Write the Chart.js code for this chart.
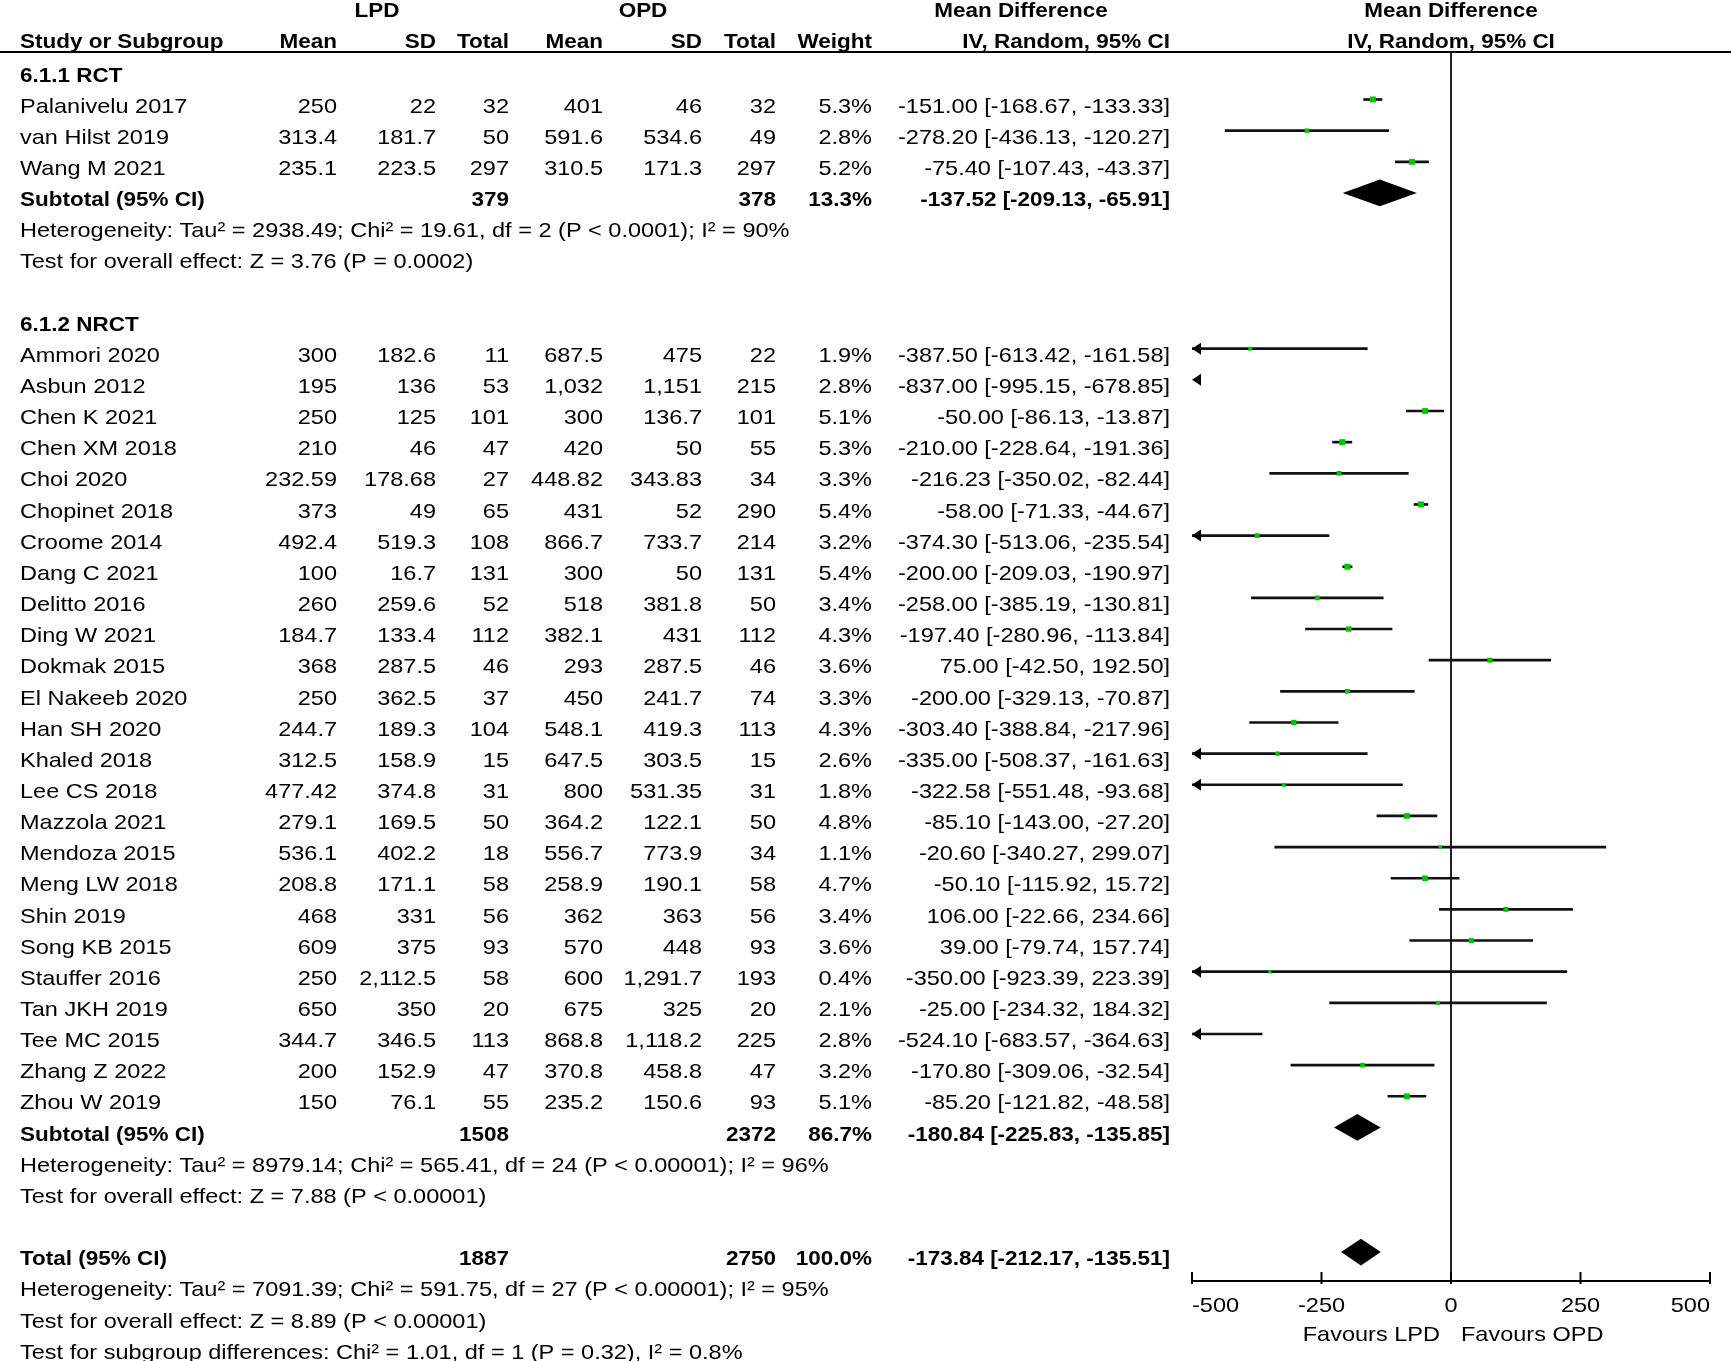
<!DOCTYPE html>
<html>
<head>
<meta charset="utf-8">
<script src="https://cdn.jsdelivr.net/npm/chart.js@4.4.1/dist/chart.umd.min.js"></script>
<style>
  html, body { margin: 0; padding: 0; background: #fff; }
  #wrap { width: 1731px; height: 1361px; position: relative; }
</style>
</head>
<body>
<div id="wrap"><canvas id="forest"></canvas></div>
<script>
// Forest plot: LPD vs OPD, mean difference (IV, random, 95% CI)

const groupNames = ['6.1.1 RCT', '6.1.2 NRCT'];
const groupSizes = [3, 25];

const studies = [
  'Palanivelu 2017', 'van Hilst 2019', 'Wang M 2021',
  'Ammori 2020', 'Asbun 2012', 'Chen K 2021', 'Chen XM 2018', 'Choi 2020',
  'Chopinet 2018', 'Croome 2014', 'Dang C 2021', 'Delitto 2016', 'Ding W 2021',
  'Dokmak 2015', 'El Nakeeb 2020', 'Han SH 2020', 'Khaled 2018', 'Lee CS 2018',
  'Mazzola 2021', 'Mendoza 2015', 'Meng LW 2018', 'Shin 2019', 'Song KB 2015',
  'Stauffer 2016', 'Tan JKH 2019', 'Tee MC 2015', 'Zhang Z 2022', 'Zhou W 2019'
];
const lpdMean = ['250', '313.4', '235.1', '300', '195', '250', '210', '232.59', '373', '492.4', '100', '260', '184.7',
  '368', '250', '244.7', '312.5', '477.42', '279.1', '536.1', '208.8', '468', '609', '250', '650', '344.7', '200', '150'];
const lpdSD = ['22', '181.7', '223.5', '182.6', '136', '125', '46', '178.68', '49', '519.3', '16.7', '259.6', '133.4',
  '287.5', '362.5', '189.3', '158.9', '374.8', '169.5', '402.2', '171.1', '331', '375', '2,112.5', '350', '346.5', '152.9', '76.1'];
const lpdTotal = [32, 50, 297, 11, 53, 101, 47, 27, 65, 108, 131, 52, 112,
  46, 37, 104, 15, 31, 50, 18, 58, 56, 93, 58, 20, 113, 47, 55];
const opdMean = ['401', '591.6', '310.5', '687.5', '1,032', '300', '420', '448.82', '431', '866.7', '300', '518', '382.1',
  '293', '450', '548.1', '647.5', '800', '364.2', '556.7', '258.9', '362', '570', '600', '675', '868.8', '370.8', '235.2'];
const opdSD = ['46', '534.6', '171.3', '475', '1,151', '136.7', '50', '343.83', '52', '733.7', '50', '381.8', '431',
  '287.5', '241.7', '419.3', '303.5', '531.35', '122.1', '773.9', '190.1', '363', '448', '1,291.7', '325', '1,118.2', '458.8', '150.6'];
const opdTotal = [32, 49, 297, 22, 215, 101, 55, 34, 290, 214, 131, 50, 112,
  46, 74, 113, 15, 31, 50, 34, 58, 56, 93, 193, 20, 225, 47, 93];
const weights = [5.3, 2.8, 5.2, 1.9, 2.8, 5.1, 5.3, 3.3, 5.4, 3.2, 5.4, 3.4, 4.3,
  3.6, 3.3, 4.3, 2.6, 1.8, 4.8, 1.1, 4.7, 3.4, 3.6, 0.4, 2.1, 2.8, 3.2, 5.1];
const md = [-151.00, -278.20, -75.40, -387.50, -837.00, -50.00, -210.00, -216.23, -58.00, -374.30, -200.00, -258.00, -197.40,
  75.00, -200.00, -303.40, -335.00, -322.58, -85.10, -20.60, -50.10, 106.00, 39.00, -350.00, -25.00, -524.10, -170.80, -85.20];
const ciLow = [-168.67, -436.13, -107.43, -613.42, -995.15, -86.13, -228.64, -350.02, -71.33, -513.06, -209.03, -385.19, -280.96,
  -42.50, -329.13, -388.84, -508.37, -551.48, -143.00, -340.27, -115.92, -22.66, -79.74, -923.39, -234.32, -683.57, -309.06, -121.82];
const ciHigh = [-133.33, -120.27, -43.37, -161.58, -678.85, -13.87, -191.36, -82.44, -44.67, -235.54, -190.97, -130.81, -113.84,
  192.50, -70.87, -217.96, -161.63, -93.68, -27.20, 299.07, 15.72, 234.66, 157.74, 223.39, 184.32, -364.63, -32.54, -48.58];

const subLpdTotal = [379, 1508];
const subOpdTotal = [378, 2372];
const subWeight = ['13.3%', '86.7%'];
const subMd = [-137.52, -180.84];
const subLow = [-209.13, -225.83];
const subHigh = [-65.91, -135.85];
const subHet = [
  'Heterogeneity: Tau² = 2938.49; Chi² = 19.61, df = 2 (P < 0.0001); I² = 90%',
  'Heterogeneity: Tau² = 8979.14; Chi² = 565.41, df = 24 (P < 0.00001); I² = 96%'
];
const subTest = [
  'Test for overall effect: Z = 3.76 (P = 0.0002)',
  'Test for overall effect: Z = 7.88 (P < 0.00001)'
];

const totalLpd = 1887;
const totalOpd = 2750;
const totalWeight = '100.0%';
const totalMd = -173.84;
const totalLow = -212.17;
const totalHigh = -135.51;
const totalNotes = [
  'Heterogeneity: Tau² = 7091.39; Chi² = 591.75, df = 27 (P < 0.00001); I² = 95%',
  'Test for overall effect: Z = 8.89 (P < 0.00001)',
  'Test for subgroup differences: Chi² = 1.01, df = 1 (P = 0.32), I² = 0.8%'
];

const xTicks = [-500, -250, 0, 250, 500];
const xMin = -500, xMax = 500;

// ---- row layout (one row index per text line) ----
const studyRow = [];
const groupRow = [], subRow = [];
let r = -1;
groupSizes.forEach(n => {
  groupRow.push(r);
  for (let j = 0; j < n; j++) studyRow.push(r + 1 + j);
  subRow.push(r + n + 1);
  r += n + 5;
});
const totalRow = r;

function ciText(m, lo, hi) {
  return m.toFixed(2) + ' [' + lo.toFixed(2) + ', ' + hi.toFixed(2) + ']';
}

// Column right edges / anchors
const COL = { name: 20, lMean: 337, lSD: 436, lTot: 509, oMean: 603, oSD: 702, oTot: 776, w: 872, ci: 1170 };
const TEXT_DY = 7.4;   // text sits a little below the marks in RevMan plots
const HEAD_DY = 5.4;

function txt(ctx, s, x, y, align, bold) {
  ctx.save();
  ctx.font = (bold ? 'bold ' : '') + '21px "Liberation Sans", Arial, sans-serif';
  ctx.fillStyle = '#000';
  ctx.textAlign = align;
  ctx.textBaseline = 'middle';
  ctx.translate(x, y);
  ctx.scale(bold ? 1.07 : 1.12, 1);
  ctx.fillText(s, 0, 0);
  ctx.restore();
}

const forestPlugin = {
  id: 'forest',
  beforeDatasetsDraw(chart) {
    const { ctx, chartArea, scales: { x } } = chart;
    ctx.save();
    // header rule
    ctx.strokeStyle = '#000';
    ctx.lineWidth = 2;
    ctx.beginPath();
    ctx.moveTo(0, chartArea.top);
    ctx.lineTo(chart.width, chartArea.top);
    ctx.stroke();
    // line of no effect
    ctx.strokeStyle = '#222';
    ctx.beginPath();
    ctx.moveTo(x.getPixelForValue(0), chartArea.top);
    ctx.lineTo(x.getPixelForValue(0), chartArea.bottom);
    ctx.stroke();
    ctx.restore();
  },
  afterDatasetsDraw(chart) {
    const { ctx, chartArea, scales: { x, y } } = chart;
    ctx.save();
    // arrows for intervals running past the axis
    ctx.fillStyle = '#000';
    studies.forEach((s, i) => {
      const py = y.getPixelForValue(studyRow[i]);
      if (ciLow[i] < xMin) {
        const px = x.getPixelForValue(xMin);
        ctx.beginPath();
        ctx.moveTo(px, py);
        ctx.lineTo(px + 9, py - 6);
        ctx.lineTo(px + 9, py + 6);
        ctx.closePath();
        ctx.fill();
      }
      if (ciHigh[i] > xMax) {
        const px = x.getPixelForValue(xMax);
        ctx.beginPath();
        ctx.moveTo(px, py);
        ctx.lineTo(px - 9, py - 6);
        ctx.lineTo(px - 9, py + 6);
        ctx.closePath();
        ctx.fill();
      }
    });
    // diamonds
    const diamonds = subMd.map((m, g) => [m, subLow[g], subHigh[g], subRow[g]]);
    diamonds.push([totalMd, totalLow, totalHigh, totalRow]);
    diamonds.forEach(([m, lo, hi, row]) => {
      const pc = y.getPixelForValue(row);
      const h = Math.abs(y.getPixelForValue(row + 0.43) - pc);
      ctx.beginPath();
      ctx.moveTo(x.getPixelForValue(lo), pc);
      ctx.lineTo(x.getPixelForValue(m), pc - h);
      ctx.lineTo(x.getPixelForValue(hi), pc);
      ctx.lineTo(x.getPixelForValue(m), pc + h);
      ctx.closePath();
      ctx.fill();
    });
    // x axis
    const ay = chartArea.bottom;
    ctx.strokeStyle = '#000';
    ctx.lineWidth = 2;
    ctx.beginPath();
    ctx.moveTo(x.getPixelForValue(xMin), ay);
    ctx.lineTo(x.getPixelForValue(xMax), ay);
    xTicks.forEach(t => {
      const px = x.getPixelForValue(t);
      ctx.moveTo(px, ay - 9);
      ctx.lineTo(px, ay + 3);
    });
    ctx.stroke();
    ctx.restore();
    xTicks.forEach((t, i) => {
      const px = x.getPixelForValue(t);
      const align = i === 0 ? 'left' : (i === xTicks.length - 1 ? 'right' : 'center');
      txt(ctx, String(t), px, ay + 25, align, false);
    });
    const zx = x.getPixelForValue(0);
    txt(ctx, 'Favours LPD', zx - 11, ay + 54, 'right', false);
    txt(ctx, 'Favours OPD', zx + 10, ay + 54, 'left', false);
  },
  afterDraw(chart) {
    const { ctx, scales: { y } } = chart;
    const Y = row => y.getPixelForValue(row) + TEXT_DY;
    const H = row => y.getPixelForValue(row) + HEAD_DY;
    const right = (chart.chartArea.left + chart.chartArea.right) / 2;

    // column headers
    txt(ctx, 'LPD', 377, H(-3), 'center', true);
    txt(ctx, 'OPD', 643, H(-3), 'center', true);
    txt(ctx, 'Mean Difference', 1021, H(-3), 'center', true);
    txt(ctx, 'Mean Difference', right, H(-3), 'center', true);
    const hy = H(-2);
    txt(ctx, 'Study or Subgroup', COL.name, hy, 'left', true);
    txt(ctx, 'Mean', COL.lMean, hy, 'right', true);
    txt(ctx, 'SD', COL.lSD, hy, 'right', true);
    txt(ctx, 'Total', COL.lTot, hy, 'right', true);
    txt(ctx, 'Mean', COL.oMean, hy, 'right', true);
    txt(ctx, 'SD', COL.oSD, hy, 'right', true);
    txt(ctx, 'Total', COL.oTot, hy, 'right', true);
    txt(ctx, 'Weight', COL.w, hy, 'right', true);
    txt(ctx, 'IV, Random, 95% CI', COL.ci, hy, 'right', true);
    txt(ctx, 'IV, Random, 95% CI', right, hy, 'center', true);

    // study rows
    studies.forEach((s, i) => {
      const py = Y(studyRow[i]);
      txt(ctx, s, COL.name, py, 'left', false);
      txt(ctx, lpdMean[i], COL.lMean, py, 'right', false);
      txt(ctx, lpdSD[i], COL.lSD, py, 'right', false);
      txt(ctx, String(lpdTotal[i]), COL.lTot, py, 'right', false);
      txt(ctx, opdMean[i], COL.oMean, py, 'right', false);
      txt(ctx, opdSD[i], COL.oSD, py, 'right', false);
      txt(ctx, String(opdTotal[i]), COL.oTot, py, 'right', false);
      txt(ctx, weights[i].toFixed(1) + '%', COL.w, py, 'right', false);
      txt(ctx, ciText(md[i], ciLow[i], ciHigh[i]), COL.ci, py, 'right', false);
    });

    // subgroup headers, subtotals and notes
    groupNames.forEach((g, j) => {
      txt(ctx, g, COL.name, Y(groupRow[j]), 'left', true);
      const py = Y(subRow[j]);
      txt(ctx, 'Subtotal (95% CI)', COL.name, py, 'left', true);
      txt(ctx, String(subLpdTotal[j]), COL.lTot, py, 'right', true);
      txt(ctx, String(subOpdTotal[j]), COL.oTot, py, 'right', true);
      txt(ctx, subWeight[j], COL.w, py, 'right', true);
      txt(ctx, ciText(subMd[j], subLow[j], subHigh[j]), COL.ci, py, 'right', true);
      txt(ctx, subHet[j], COL.name, Y(subRow[j] + 1), 'left', false);
      txt(ctx, subTest[j], COL.name, Y(subRow[j] + 2), 'left', false);
    });

    // overall total
    const ty = Y(totalRow);
    txt(ctx, 'Total (95% CI)', COL.name, ty, 'left', true);
    txt(ctx, String(totalLpd), COL.lTot, ty, 'right', true);
    txt(ctx, String(totalOpd), COL.oTot, ty, 'right', true);
    txt(ctx, totalWeight, COL.w, ty, 'right', true);
    txt(ctx, ciText(totalMd, totalLow, totalHigh), COL.ci, ty, 'right', true);
    totalNotes.forEach((n, j) => txt(ctx, n, COL.name, Y(totalRow + 1 + j), 'left', false));
  }
};

// y value range chosen so row 0 marks sit at ~99.5px and rows are 31.15px apart
const rowTop = -1.525, rowBottom = 37.93;

new Chart(document.getElementById('forest'), {
  type: 'bar',
  data: {
    datasets: [
      {
        type: 'scatter',
        label: 'Mean difference',
        data: studies.map((s, i) => ({ x: md[i], y: studyRow[i] })),
        pointStyle: 'rect',
        pointRadius: weights.map(w => (2.8 + 0.6 * w) / Math.SQRT2),
        backgroundColor: '#00c800',
        borderWidth: 0,
        clip: 0,
        order: 0
      },
      {
        type: 'bar',
        label: '95% CI',
        data: studies.map((s, i) => ({ x: [ciLow[i], ciHigh[i]], y: studyRow[i] })),
        backgroundColor: '#111',
        borderWidth: 0,
        barThickness: 2,
        clip: 0,
        order: 1
      }
    ]
  },
  options: {
    indexAxis: 'y',
    responsive: true,
    maintainAspectRatio: false,
    devicePixelRatio: 1,
    animation: false,
    layout: { padding: { left: 1192, right: 21, top: 52, bottom: 80 } },
    scales: {
      x: { type: 'linear', min: xMin, max: xMax, display: false, offset: false },
      y: { type: 'linear', min: rowTop, max: rowBottom, reverse: true, display: false, offset: false }
    },
    plugins: { legend: { display: false }, tooltip: { enabled: false } }
  },
  plugins: [forestPlugin]
});
</script>
</body>
</html>
